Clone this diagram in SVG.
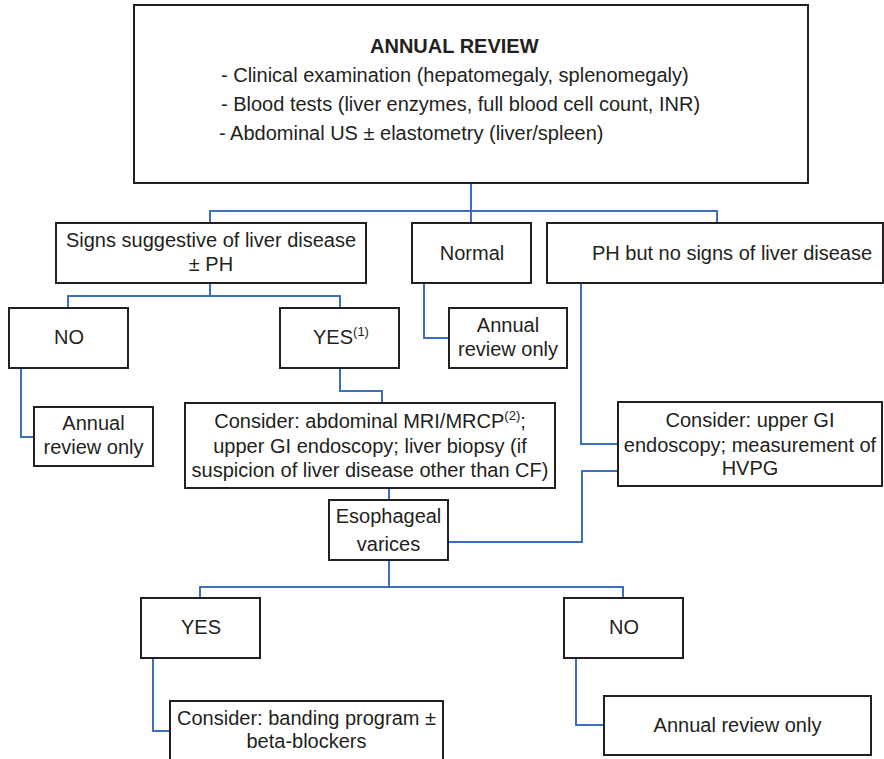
<svg xmlns="http://www.w3.org/2000/svg" width="884" height="759" viewBox="0 0 884 759">
<style>
.box{fill:#fff;stroke:#231f20;stroke-width:2}
.t{font-family:"Liberation Sans",Arial,sans-serif;font-size:20px;fill:#231f20}
.m{text-anchor:middle}
.b{font-weight:bold}
.c{fill:none;stroke:#3a6ebf;stroke-width:2}
</style>
<rect width="884" height="759" fill="#fff"/>
<g id="connectors">
<path class="c" d="M471,183 V223"/>
<path class="c" d="M210,223 V211 H717 V223"/>
<path class="c" d="M210,283 V296"/>
<path class="c" d="M68,308 V296 H340 V308"/>
<path class="c" d="M21,368 V437 H34"/>
<path class="c" d="M340,368 V391 H382 V403"/>
<path class="c" d="M424,283 V338 H449"/>
<path class="c" d="M581,283 V444 H618"/>
<path class="c" d="M618,471 H582 V542 H448"/>
<path class="c" d="M389,488 V500"/>
<path class="c" d="M389,560 V587"/>
<path class="c" d="M200,598 V587 H623 V598"/>
<path class="c" d="M153,658 V731 H170"/>
<path class="c" d="M576,658 V725 H604"/>
</g>
<g id="annual-review">
<rect class="box" x="134" y="5" width="674" height="178"/>
<text class="t b" x="370" y="53">ANNUAL REVIEW</text>
<text class="t" x="221" y="82">- Clinical examination (hepatomegaly, splenomegaly)</text>
<text class="t" x="221" y="111">- Blood tests (liver enzymes, full blood cell count, INR)</text>
<text class="t" x="219" y="140">- Abdominal US ± elastometry (liver/spleen)</text>
</g>
<g id="signs">
<rect class="box" x="56" y="223" width="310" height="60"/>
<text class="t m" x="211" y="247">Signs suggestive of liver disease</text>
<text class="t m" x="211" y="271">± PH</text>
</g>
<g id="normal">
<rect class="box" x="412" y="223" width="119" height="60"/>
<text class="t m" x="472" y="260">Normal</text>
</g>
<g id="ph-no-liver">
<rect class="box" x="547" y="223" width="336" height="60"/>
<text class="t m" x="732" y="260">PH but no signs of liver disease</text>
</g>
<g id="no1">
<rect class="box" x="9" y="308" width="119" height="60"/>
<text class="t m" x="69" y="344">NO</text>
</g>
<g id="yes1">
<rect class="box" x="280" y="308" width="119" height="60"/>
<text class="t m" x="341" y="344">YES<tspan font-size="13" dy="-8">(1)</tspan></text>
</g>
<g id="annual-only-1">
<rect class="box" x="34" y="407" width="119" height="59"/>
<text class="t m" x="93.5" y="430">Annual</text>
<text class="t m" x="93.5" y="454">review only</text>
</g>
<g id="annual-only-2">
<rect class="box" x="449" y="308" width="118" height="60"/>
<text class="t m" x="508" y="332">Annual</text>
<text class="t m" x="508" y="356">review only</text>
</g>
<g id="consider-mri">
<rect class="box" x="185" y="403" width="370" height="85"/>
<text class="t m" x="370" y="428">Consider: abdominal MRI/MRCP<tspan font-size="13" dy="-8">(2)</tspan><tspan dy="8">;</tspan></text>
<text class="t m" x="370" y="453">upper GI endoscopy; liver biopsy (if</text>
<text class="t m" x="370" y="477">suspicion of liver disease other than CF)</text>
</g>
<g id="consider-gi">
<rect class="box" x="618" y="402" width="264" height="84"/>
<text class="t m" x="750" y="427">Consider: upper GI</text>
<text class="t m" x="750" y="452">endoscopy; measurement of</text>
<text class="t m" x="750" y="475">HVPG</text>
</g>
<g id="esophageal">
<rect class="box" x="329" y="500" width="119" height="60"/>
<text class="t m" x="388.5" y="523">Esophageal</text>
<text class="t m" x="388.5" y="551">varices</text>
</g>
<g id="yes2">
<rect class="box" x="141" y="598" width="119" height="60"/>
<text class="t m" x="201" y="634">YES</text>
</g>
<g id="no2">
<rect class="box" x="564" y="598" width="119" height="60"/>
<text class="t m" x="624" y="634">NO</text>
</g>
<g id="banding">
<rect class="box" x="170" y="701" width="273" height="62"/>
<text class="t m" x="306.5" y="725">Consider: banding program ±</text>
<text class="t m" x="306.5" y="748">beta-blockers</text>
</g>
<g id="annual-only-3">
<rect class="box" x="604" y="696" width="267" height="59"/>
<text class="t m" x="737.5" y="732">Annual review only</text>
</g>
</svg>
